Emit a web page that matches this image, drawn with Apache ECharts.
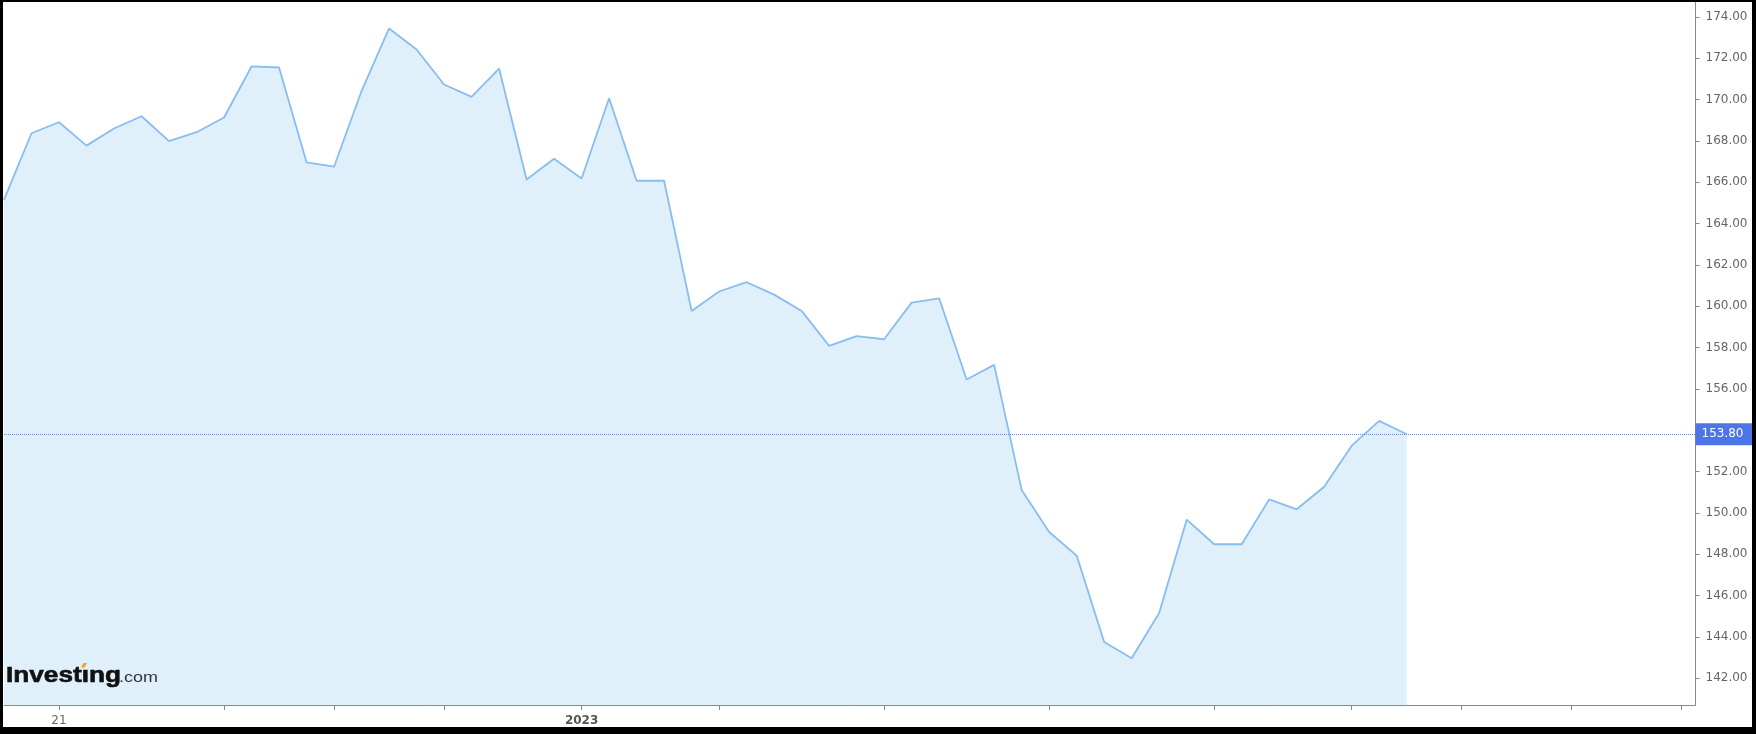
<!DOCTYPE html>
<html>
<head>
<meta charset="utf-8">
<script src="https://cdn.jsdelivr.net/npm/echarts@6/dist/echarts.min.js"></script>
<style>
  html, body { margin: 0; padding: 0; background: #fff; }
  #frame { width: 1756px; height: 734px; box-sizing: border-box; border-style: solid; border-color: #000; border-width: 2px 4px 7px 3px; }
  #chart { width: 1749px; height: 725px; }
</style>
</head>
<body>
<div id="frame"><div id="chart"></div></div>
<script>
// Weekly closing prices (index = week number)
const prices = [165.14, 168.37, 168.90, 167.77, 168.60, 169.19, 167.99, 168.42, 169.13, 171.60,
  171.55, 166.96, 166.75, 170.41, 173.44, 172.42, 170.73, 170.13, 171.50, 166.13,
  167.13, 166.18, 170.06, 166.07, 166.07, 159.77, 160.71, 161.16, 160.56, 159.77,
  158.08, 158.55, 158.40, 160.17, 160.38, 156.45, 157.16, 151.11, 149.07, 147.93,
  143.75, 142.96, 145.15, 149.67, 148.48, 148.48, 150.65, 150.17, 151.26, 153.25,
  154.45, 153.80];

// X-axis ticks (in week index units) and labels
const xTickIdx = [2, 8, 12, 16, 21, 26, 32, 38, 44, 49, 53, 57, 61];
const xLabelIdx = [2, 21];
const xLabelText = ['21', '2023'];

// Y-axis ticks and labels
const yTickValues = [142, 144, 146, 148, 150, 152, 154, 156, 158, 160, 162, 164, 166, 168, 170, 172, 174];
const yLabelValues = [142, 144, 146, 148, 150, 152, 156, 158, 160, 162, 164, 166, 168, 170, 172, 174];

const seriesData = prices.map((v, i) => [i, v]);
const lastPrice = prices[prices.length - 1];

const chart = echarts.init(document.getElementById('chart'));
chart.setOption({
  animation: false,
  backgroundColor: '#fff',
  grid: { left: 1, right: 56.5, top: 0, bottom: 21 },
  xAxis: {
    type: 'value',
    min: 0,
    max: 61.5,
    splitLine: { show: false },
    axisLine: { show: true, onZero: false, lineStyle: { color: '#8a8a8a', width: 1 } },
    axisTick: { show: true, length: 5, customValues: xTickIdx, lineStyle: { color: '#8a8a8a' } },
    axisLabel: {
      show: true,
      customValues: xLabelIdx,
      margin: 10,
      fontFamily: 'DejaVu Sans',
      fontSize: 12,
      color: '#666',
      formatter: function (v) {
        const k = xLabelIdx.indexOf(Math.round(v));
        const t = k >= 0 ? xLabelText[k] : '';
        return t.length === 4 ? '{b|' + t + '}' : t;
      },
      rich: { b: { fontFamily: 'DejaVu Sans', fontSize: 12, fontWeight: 'bold', color: '#555' } }
    }
  },
  yAxis: {
    type: 'value',
    position: 'right',
    min: 140.70,
    max: 174.72,
    splitLine: { show: false },
    axisLine: { show: true, onZero: false, lineStyle: { color: '#8a8a8a', width: 1 } },
    axisTick: { show: true, length: 4, customValues: yTickValues, lineStyle: { color: '#8a8a8a' } },
    axisLabel: {
      show: true,
      customValues: yLabelValues,
      margin: 10,
      fontFamily: 'DejaVu Sans',
      fontSize: 12,
      color: '#666',
      formatter: function (v) { return v.toFixed(2); }
    }
  },
  series: [{
    type: 'line',
    data: seriesData,
    symbol: 'none',
    lineStyle: { color: '#88bdf0', width: 1.8 },
    areaStyle: { color: '#e0f0fa', origin: 'start', opacity: 1 },
    markLine: {
      silent: true,
      symbol: 'none',
      animation: false,
      lineStyle: { color: '#6e8ef0', type: 'dotted', width: 1 },
      label: {
        show: true,
        position: 'end',
        distance: 0,
        formatter: function (p) { return Number(p.value).toFixed(2); },
        backgroundColor: '#4c75e7',
        color: '#fff',
        fontFamily: 'DejaVu Sans',
        fontSize: 12,
        lineHeight: 12,
        padding: [5, 10, 5, 6]
      },
      data: [{ yAxis: lastPrice }]
    }
  }],
  graphic: [
    {
      type: 'text',
      x: 3,
      y: 674,
      scaleX: 1.19,
      z: 100,
      style: {
        x: 0,
        y: 0,
        text: 'Invest\u0131ng',
        font: 'bold 22px "Liberation Sans"',
        fill: '#111',
        stroke: '#111',
        lineWidth: 0.6,
        verticalAlign: 'middle'
      }
    },
    {
      type: 'text',
      x: 116,
      y: 676,
      scaleX: 1.2,
      z: 100,
      style: {
        x: 0,
        y: 0,
        text: '.com',
        font: '15px "Liberation Sans"',
        fill: '#333',
        verticalAlign: 'middle'
      }
    },
    {
      type: 'polygon',
      z: 101,
      shape: { points: [[78, 665.5], [80.5, 661], [84, 661], [81.5, 665.5]] },
      style: { fill: '#f5a01a' }
    }
  ]
});
</script>
</body>
</html>
